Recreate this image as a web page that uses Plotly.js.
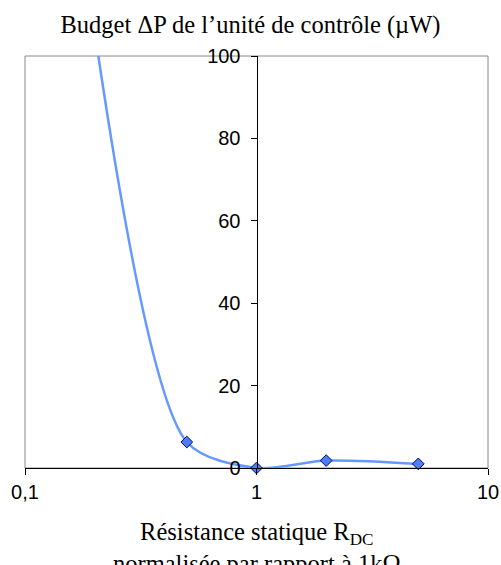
<!DOCTYPE html>
<html>
<head>
<meta charset="utf-8">
<script src="https://cdn.plot.ly/plotly-3.0.1.min.js"></script>
<style>
html,body{margin:0;padding:0;background:#fff;}
#chart{width:501px;height:565px;}
</style>
</head>
<body>
<div id="chart"></div>
<script>
// Data
const resistance = [0.2, 0.5, 1, 2, 5];           // R_DC normalised to 1 kΩ
const powerBudget = [106, 6.3, 0, 1.8, 1.0];      // ΔP budget (µW)
const xTickVals = [0.1, 1, 10];
const xTickText = ['0,1', '1', '10'];
const yTickVals = [0, 20, 40, 60, 80, 100];
const xTitle = 'Résistance statique R<sub>DC</sub><br>normalisée par rapport à 1kΩ';
const chartTitle = 'Budget ΔP de l’unité de contrôle (µW)';

const yMax = 100;
const visX = [], visY = [];
resistance.forEach((r, i) => { if (powerBudget[i] <= yMax) { visX.push(r); visY.push(powerBudget[i]); } });

const serif = 'Liberation Serif';
const sans = 'Liberation Sans';

const traces = [
  {
    x: resistance, y: powerBudget, type: 'scatter', mode: 'lines',
    line: {color: '#6699FF', width: 2.5, shape: 'spline', smoothing: 0.8},
    hoverinfo: 'skip', showlegend: false
  },
  {
    x: visX, y: visY, type: 'scatter', mode: 'markers', cliponaxis: false,
    marker: {symbol: 'diamond', size: 9, color: '#4F7FEF', line: {color: '#000080', width: 1}},
    showlegend: false
  }
];

const layout = {
  width: 501, height: 565,
  margin: {l: 25, r: 13, t: 56, b: 97},
  paper_bgcolor: '#fff', plot_bgcolor: '#fff',
  title: {
    text: chartTitle,
    font: {family: serif, size: 24.5, color: '#000'},
    x: 0.5, xanchor: 'center', y: 1, yref: 'paper', yanchor: 'bottom', pad: {b: 23}
  },
  xaxis: {
    type: 'log', range: [-1, 1],
    tickvals: xTickVals, ticktext: xTickText,
    ticks: 'outside', ticklen: 6, tickcolor: '#000',
    showline: true, linecolor: '#000', linewidth: 1,
    showgrid: false, zeroline: false,
    tickfont: {family: sans, size: 20, color: '#000'}
  },
  yaxis: {
    range: [0, 100], tickvals: yTickVals,
    anchor: 'free', position: 0.5,
    ticks: 'outside', ticklen: 6, tickcolor: '#000',
    showline: true, linecolor: '#000', linewidth: 1,
    showgrid: false, zeroline: false,
    ticklabelstandoff: 6,
    tickfont: {family: sans, size: 20, color: '#000'}
  },
  annotations: [{
    text: xTitle, xref: 'paper', yref: 'paper', x: 0.5, y: -0.117,
    xanchor: 'center', yanchor: 'top', showarrow: false, align: 'center',
    font: {family: serif, size: 24.5, color: '#000'}
  }],
  shapes: [{
    type: 'rect', xref: 'paper', yref: 'paper', x0: 0, x1: 1, y0: 0, y1: 1,
    line: {color: '#888', width: 1}, layer: 'below'
  }]
};

Plotly.newPlot('chart', traces, layout, {displayModeBar: false, staticPlot: true});
</script>
</body>
</html>
